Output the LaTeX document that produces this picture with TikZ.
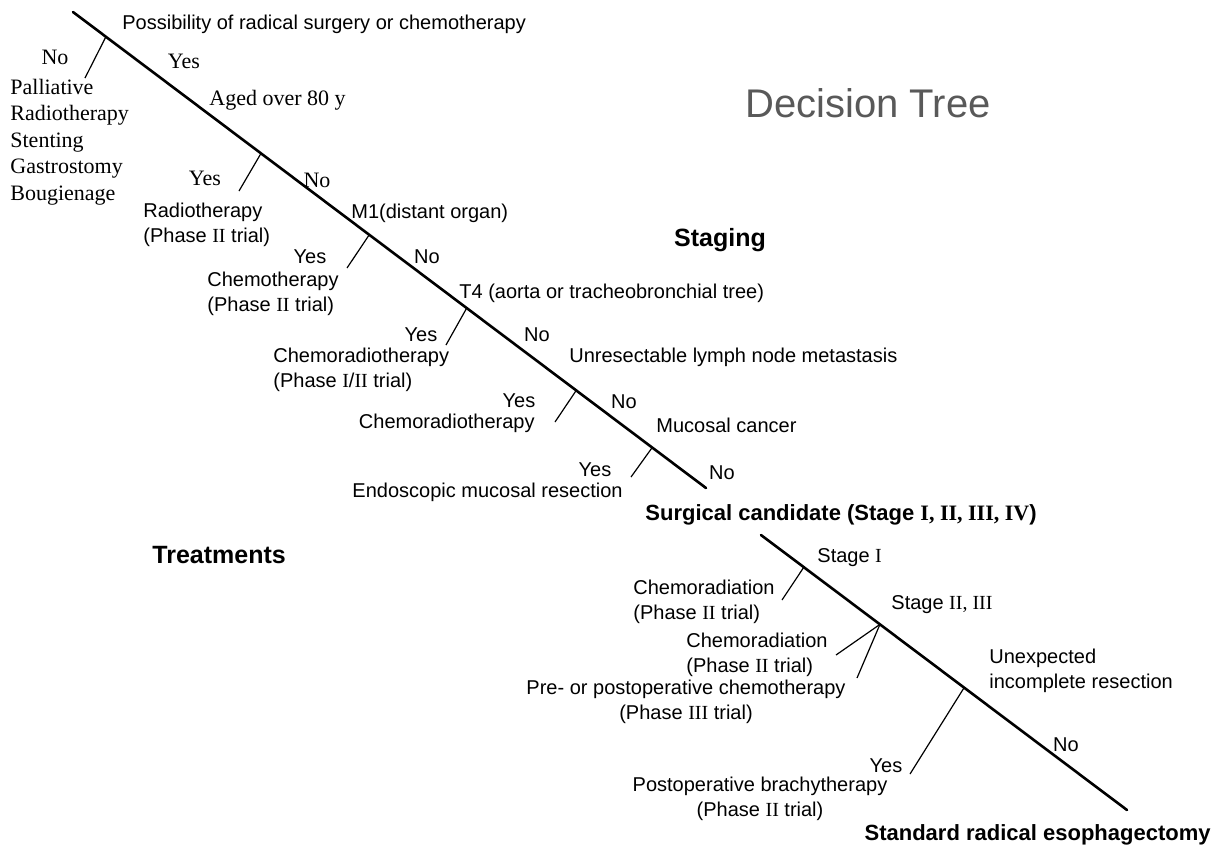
\documentclass[tikz,border=0pt]{standalone}
\usepackage{fontspec}
\setmainfont{Liberation Sans}
\newfontfamily\serifjp{Liberation Serif}
\usetikzlibrary{positioning, calc}
\newcommand{\romnum}[1]{{\serifjp #1}}

\begin{document}
\begin{tikzpicture}[
    % x/y: one unit = one pixel of the 1215x847 sheet, y pointing down
    x=0.5pt, y=-0.5pt,
    trunk/.style={line width=1.3pt, line cap=round},
    twig/.style={line width=0.6pt},
    lbl/.style={inner sep=0pt, align=left, font=\fontsize{10}{12.5}\selectfont},
    lblser/.style={inner sep=0pt, align=left, font=\serifjp\fontsize{11}{13.25}\selectfont},
    head/.style={inner sep=0pt, font=\bfseries\fontsize{12.5}{15}\selectfont},
    outcome/.style={inner sep=0pt, font=\bfseries\fontsize{11}{13}\selectfont},
    bigtitle/.style={inner sep=0pt, text=black!65, font=\fontsize{20}{24}\selectfont}
  ]
  \useasboundingbox (0,0) rectangle (1215,847);

  % ── Titles ────────────────────────────────────────────────────────────────
  \node[bigtitle, anchor=west] (title)   at (745,103) {Decision Tree};
  \node[head]                  (staging) at (720,240) {Staging};
  \node[head, anchor=west]     (treat)   at (152,555) {Treatments};

  % ── Staging trunk ─────────────────────────────────────────────────────────
  \coordinate (top) at (73,12);
  \coordinate (bot) at (706,488);
  \draw[trunk] (top) -- (bot);

  \coordinate (j1) at ($(top)!0.052!(bot)$);
  \coordinate (j2) at ($(top)!0.297!(bot)$);
  \coordinate (j3) at ($(top)!0.468!(bot)$);
  \coordinate (j4) at ($(top)!0.622!(bot)$);
  \coordinate (j5) at ($(top)!0.795!(bot)$);
  \coordinate (j6) at ($(top)!0.915!(bot)$);

  % branch ends (treatments)
  \coordinate (e1) at (85,78);
  \coordinate (e2) at (239,191);
  \coordinate (e3) at (347,268);
  \coordinate (e4) at (446,345);
  \coordinate (e5) at (555,422);
  \coordinate (e6) at (631,477);
  \foreach \i in {1,...,6}
    \draw[twig] (j\i) -- (e\i);

  % questions along the trunk
  \node[lbl, anchor=west]    (poss)  at (122,24)  {Possibility of radical surgery or chemotherapy};
  \node[lblser, anchor=west] (aged)  at (209,100) {Aged over 80 y};
  \node[lbl, anchor=west]    (m1)    at (351,213) {M1(distant organ)};
  \node[lbl, anchor=west]    (t4)    at (459,293) {T4 (aorta or tracheobronchial tree)};
  \node[lbl, anchor=west]    (unres) at (569,357) {Unresectable lymph node metastasis};
  \node[lbl, anchor=west]    (muc)   at (656,425) {Mucosal cancer};

  % answers
  \node[lblser] (no1)  at (55,57)   {No};
  \node[lblser] (yes1) at (184,61)  {Yes};
  \node[lblser] (yes2) at (205,178) {Yes};
  \node[lblser] (no2)  at (317,180) {No};
  \node[lbl]    (yes3) at (310,257) {Yes};
  \node[lbl]    (no3)  at (427,257) {No};
  \node[lbl]    (yes4) at (421,335) {Yes};
  \node[lbl]    (no4)  at (537,335) {No};
  \node[lbl]    (yes5) at (519,401) {Yes};
  \node[lbl]    (no5)  at (624,402) {No};
  \node[lbl]    (yes6) at (595,470) {Yes};
  \node[lbl]    (no6)  at (722,473) {No};

  % treatments on the left
  \node[lblser, anchor=west] (pall)  at (10,142)
       {Palliative\\Radiotherapy\\Stenting\\Gastrostomy\\Bougienage};
  \node[lbl, anchor=west] (radio) at (143,225) {Radiotherapy\\(Phase \romnum{II} trial)};
  \node[lbl, anchor=west] (chemo) at (207,294) {Chemotherapy\\(Phase \romnum{II} trial)};
  \node[lbl, anchor=west] (chrt1) at (273,370) {Chemoradiotherapy\\(Phase \romnum{I}/\romnum{II} trial)};
  \node[lbl, anchor=east] (chrt2) at (535,423) {Chemoradiotherapy};
  \node[lbl, anchor=east] (emr)   at (623,492) {Endoscopic mucosal resection};

  % ── Surgical trunk ────────────────────────────────────────────────────────
  \node[outcome, anchor=west] (surg) at (645,515)
       {Surgical candidate (Stage \romnum{I, II, III, IV})};
  \coordinate (stop) at (761,535);
  \coordinate (sbot) at (1127,810);
  \draw[trunk] (stop) -- (sbot);

  \coordinate (k1) at ($(stop)!0.117!(sbot)$);
  \coordinate (k2) at ($(stop)!0.325!(sbot)$);
  \coordinate (k3) at ($(stop)!0.555!(sbot)$);
  \coordinate (f1)  at (782,600);
  \coordinate (f2a) at (836,655);
  \coordinate (f2b) at (857,678);
  \coordinate (f3)  at (910,774);
  \draw[twig] (k1) -- (f1);
  \draw[twig] (k2) -- (f2a);
  \draw[twig] (k2) -- (f2b);
  \draw[twig] (k3) -- (f3);

  \node[lbl, anchor=west] (stg1)  at (817,558) {Stage \romnum{I}};
  \node[lbl, anchor=west] (stg23) at (891,605) {Stage \romnum{II, III}};
  \node[lbl, anchor=west] (unexp) at (989,671) {Unexpected\\incomplete resection};
  \node[lbl]              (yes7)  at (886,766) {Yes};
  \node[lbl]              (no7)   at (1066,745) {No};

  \node[lbl, anchor=west] (crad1) at (633,602) {Chemoradiation\\(Phase \romnum{II} trial)};
  \node[lbl, anchor=west] (crad2) at (686,655) {Chemoradiation\\(Phase \romnum{II} trial)};
  \node[lbl, align=center] (preop) at (686,702)
       {Pre- or postoperative chemotherapy\\(Phase \romnum{III} trial)};
  \node[lbl, align=center] (brachy) at (760,799)
       {Postoperative brachytherapy\\(Phase \romnum{II} trial)};

  \node[outcome, anchor=east] (std) at (1211,835) {Standard radical esophagectomy};

\end{tikzpicture}
\end{document}
